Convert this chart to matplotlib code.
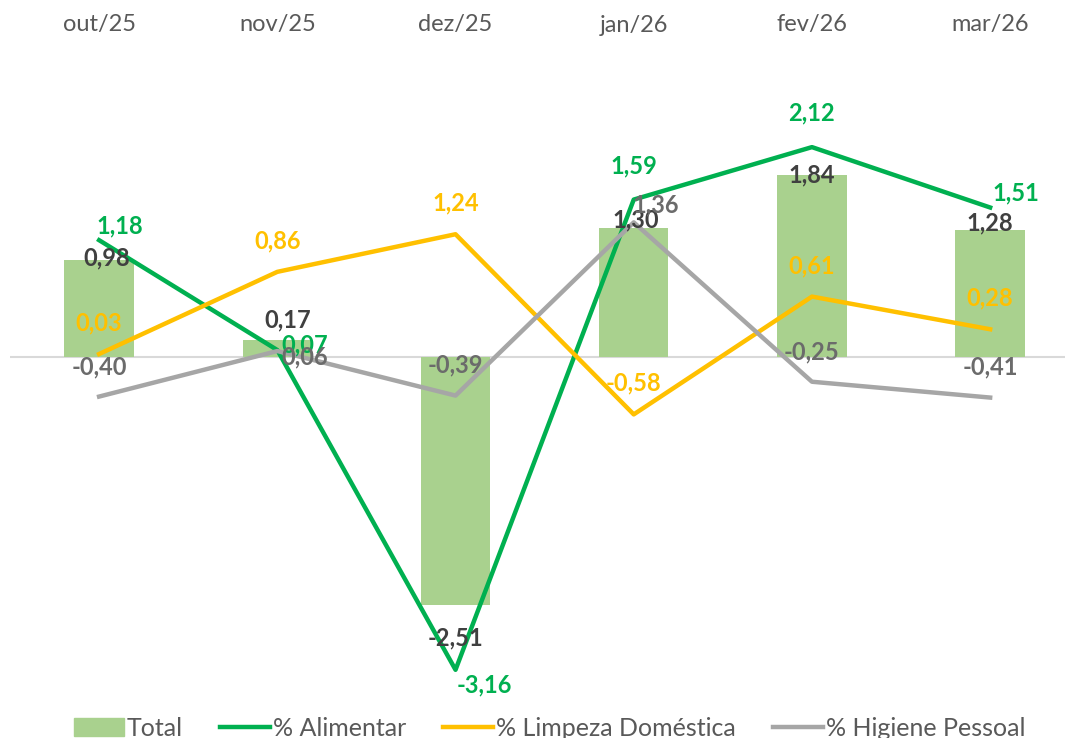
import matplotlib
matplotlib.use("Agg")
import matplotlib.pyplot as plt
from matplotlib.patches import Patch
from matplotlib.lines import Line2D
import numpy as np

# data
months = ["out/25", "nov/25", "dez/25", "jan/26", "fev/26", "mar/26"]
total = [0.98, 0.17, -2.51, 1.30, 1.84, 1.28]
alimentar = [1.18, 0.07, -3.16, 1.59, 2.12, 1.51]
limpeza = [0.03, 0.86, 1.24, -0.58, 0.61, 0.28]
higiene = [-0.40, 0.06, -0.39, 1.36, -0.25, -0.41]

# label offsets in pixels (dx, dy) relative to the point / bar end
off_total = [(8, 2), (10, 20), (0, -32), (2, 8), (0, 0), (0, 7)]
off_alim = [(21, 14), (27, 5), (29, -15), (0, 34), (0, 34), (26, 15)]
off_limp = [(0, 31)] * 6
off_hig = [(0, 30), (27, -6), (0, 31), (22, 17), (0, 30), (0, 31)]

C_BAR = "#A9D18E"
C_ALIM = "#00B050"
C_LIMP = "#FFC000"
C_HIG = "#A6A6A6"

plt.rcParams["font.family"] = ["Lato", "DejaVu Sans"]

fig = plt.figure(figsize=(10.65, 7.38), dpi=100)
ax = fig.add_axes([10 / 1065, 48 / 738, 1055 / 1065, 630 / 738])
x = np.arange(len(months))

ax.bar(x, total, width=0.39, color=C_BAR, zorder=2)
ax.axhline(0, color="#D9D9D9", lw=1.5, zorder=1)
ax.plot(x, alimentar, color=C_ALIM, lw=3.2, zorder=3)
ax.plot(x, limpeza, color=C_LIMP, lw=3.2, zorder=3)
ax.plot(x, higiene, color=C_HIG, lw=3.2, zorder=3)

def fmt(v):
    return f"{v:.2f}".replace(".", ",")

def labels(vals, offs, color):
    for xi, v, (dx, dy) in zip(x, vals, offs):
        ax.annotate(fmt(v), (xi, v), xytext=(dx, dy), textcoords="offset pixels",
                    ha="center", va="center", fontsize=17, fontweight="bold",
                    color=color, zorder=5)

labels(total, off_total, "#404040")
labels(alimentar, off_alim, C_ALIM)
labels(limpeza, off_limp, C_LIMP)
labels(higiene, off_hig, "#6B6B6B")

ax.set_xlim(-0.5, 5.42)
ax.set_ylim(-3.364, 3.0)
ax.set_yticks([])
ax.set_xticks([])
for s in ax.spines.values():
    s.set_visible(False)

for xi, m in zip(x, months):
    ax.text(xi, 1 - 25 / 630 + 60 / 630, m, transform=ax.get_xaxis_transform(),
            ha="center", va="center", fontsize=17, color="#595959")

handles = [Patch(color=C_BAR, label="Total"),
           Line2D([], [], color=C_ALIM, lw=3.2, label="% Alimentar"),
           Line2D([], [], color=C_LIMP, lw=3.2, label="% Limpeza Doméstica"),
           Line2D([], [], color=C_HIG, lw=3.2, label="% Higiene Pessoal")]
leg = fig.legend(handles=handles, loc="center", bbox_to_anchor=(0.516, 1 - 728 / 738),
                 ncol=4, frameon=False, fontsize=18, handlelength=2.0,
                 handletextpad=0.1, columnspacing=1.5)
for t in leg.get_texts():
    t.set_color("#595959")

fig.savefig("out.png", dpi=100)
